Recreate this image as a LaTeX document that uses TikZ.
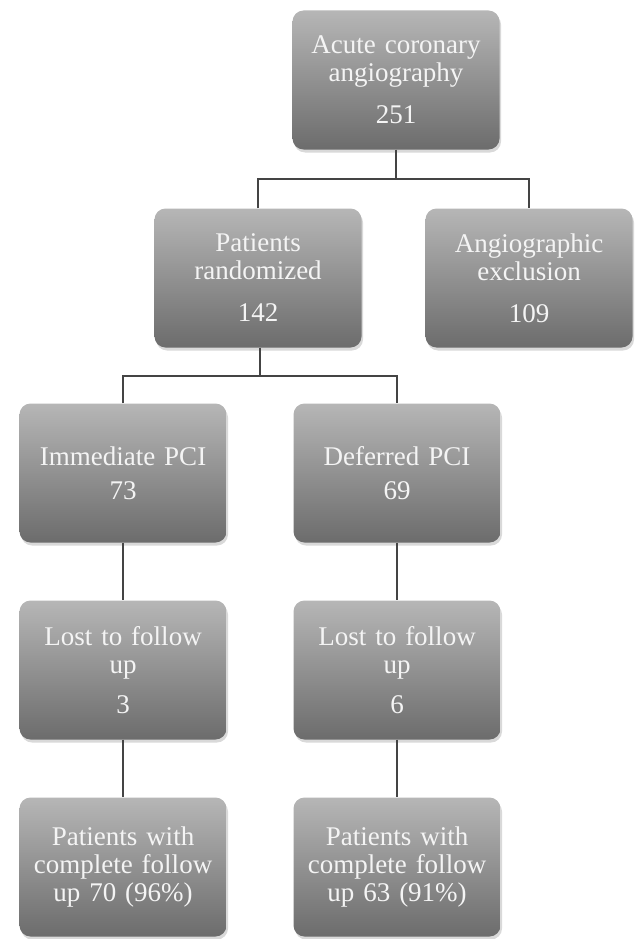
\documentclass[tikz,border=0pt]{standalone}
\usepackage{fontspec}
\setmainfont{Liberation Serif}
\usetikzlibrary{shadows}
\definecolor{boxtop}{HTML}{B6B6B6}
\definecolor{boxbot}{HTML}{6C6C6C}
\definecolor{boxtext}{HTML}{F4F4F4}
\definecolor{connline}{HTML}{444444}
\tikzset{
  flowbox/.style={rectangle, rounded corners=11pt, minimum width=207pt, minimum height=139pt,
    inner sep=0pt, text width=200pt, align=center, top color=boxtop, bottom color=boxbot,
    text=boxtext, font=\fontsize{27}{28}\selectfont,
    drop shadow={opacity=0.3, shadow xshift=1.5pt, shadow yshift=-3pt}},
  conn/.style={draw=connline, line width=1.6pt}
}
\begin{document}
\begin{tikzpicture}[x=1pt,y=-1pt]
\useasboundingbox (0,0) rectangle (641,939);
\node[flowbox] (A) at (396,80) {Acute coronary\\angiography\\[14pt]251};
\node[flowbox] (B) at (258,278) {Patients\\randomized\\[14pt]142};
\node[flowbox] (C) at (529,278) {Angiographic\\exclusion\\[14pt]109};
\node[flowbox] (D) at (123,473) {Immediate PCI\\[6pt]73};
\node[flowbox] (E) at (397,473) {Deferred PCI\\[6pt]69};
\node[flowbox] (F) at (123,670) {Lost to follow\\up\\[12pt]3};
\node[flowbox] (G) at (397,670) {Lost to follow\\up\\[12pt]6};
\node[flowbox] (H) at (123,867) {Patients with\\complete follow\\up 70 (96\%)};
\node[flowbox] (I) at (397,867) {Patients with\\complete follow\\up 63 (91\%)};
\coordinate (j1) at (396,179);
\coordinate (j2) at (260,376);
\begin{scope}[on background layer/.try]
\draw[conn] (A.south) -- (j1);
\draw[conn] (B.north) |- (j1) -| (C.north);
\draw[conn] (B.south -| j2) -- (j2);
\draw[conn] (D.north) |- (j2) -| (E.north);
\draw[conn] (D.south) -- (F.north);
\draw[conn] (E.south) -- (G.north);
\draw[conn] (F.south) -- (H.north);
\draw[conn] (G.south) -- (I.north);
\end{scope}
\end{tikzpicture}
\end{document}
